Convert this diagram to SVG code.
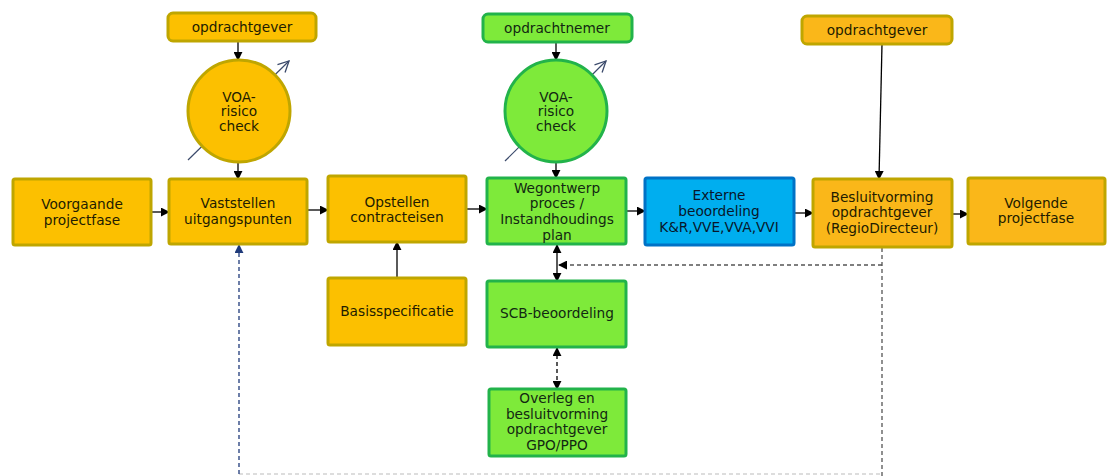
<svg xmlns="http://www.w3.org/2000/svg" width="1110" height="476" viewBox="0 0 1110 476">
<defs>
<marker id="ah" viewBox="0 0 10 10" refX="9" refY="5" markerWidth="9" markerHeight="9" markerUnits="userSpaceOnUse" orient="auto"><path d="M0,0 L10,5 L0,10 z" fill="#000"/></marker>
<marker id="ahs" viewBox="0 0 10 10" refX="1" refY="5" markerWidth="9" markerHeight="9" markerUnits="userSpaceOnUse" orient="auto"><path d="M10,0 L0,5 L10,10 z" fill="#000"/></marker>
<marker id="ahn" viewBox="0 0 10 10" refX="9" refY="5" markerWidth="9" markerHeight="9" markerUnits="userSpaceOnUse" orient="auto"><path d="M0,0 L10,5 L0,10 z" fill="#1f3a7a"/></marker>
<marker id="open" viewBox="0 0 12 12" refX="11" refY="6" markerWidth="13" markerHeight="13" markerUnits="userSpaceOnUse" orient="auto"><path d="M1,1 L11,6 L1,11" fill="none" stroke="#3b4a6b" stroke-width="1.2"/></marker>
</defs>
<style>
text{font-family:"DejaVu Sans","Liberation Sans",sans-serif;font-size:13.7px;fill:#221c00;text-anchor:middle}
.g text{fill:#122812}
.b text{fill:#08162a}
.or{fill:#fcc000;stroke:#bfa600;stroke-width:3}
.or2{fill:#fab719;stroke:#bfa600;stroke-width:3}
.gr{fill:#7eea3a;stroke:#22b34a;stroke-width:3}
.bl{fill:#00aeef;stroke:#0072c6;stroke-width:3}
.c{stroke:#000;stroke-width:1.3;fill:none}
.d{stroke:#555;stroke-width:1.3;fill:none;stroke-dasharray:4,3}
</style>

<g id="connectors">
<line x1="188" y1="160" x2="289" y2="61" stroke="#3b4a6b" stroke-width="1.2" marker-end="url(#open)"/>
<line x1="505" y1="161" x2="606" y2="61" stroke="#3b4a6b" stroke-width="1.2" marker-end="url(#open)"/>
<line class="c" x1="238" y1="41" x2="238" y2="60" marker-end="url(#ah)"/>
<line class="c" x1="238" y1="162" x2="238" y2="179" marker-end="url(#ah)"/>
<line class="c" x1="151" y1="212" x2="169" y2="212" marker-end="url(#ah)"/>
<line class="c" x1="307" y1="210" x2="328" y2="210" marker-end="url(#ah)"/>
<line class="c" x1="466" y1="209" x2="487" y2="209" marker-end="url(#ah)"/>
<line class="c" x1="556" y1="42" x2="556" y2="60" marker-end="url(#ah)"/>
<line class="c" x1="556" y1="162" x2="556" y2="178" marker-end="url(#ah)"/>
<line class="c" x1="626" y1="211" x2="645" y2="211" marker-end="url(#ah)"/>
<line class="c" x1="794" y1="213" x2="813" y2="213" marker-end="url(#ah)"/>
<line class="c" x1="952" y1="214" x2="968" y2="214" marker-end="url(#ah)"/>
<line class="c" x1="882" y1="44" x2="879" y2="179" marker-end="url(#ah)"/>
<line class="c" x1="397" y1="278" x2="397" y2="242" marker-end="url(#ah)"/>
<line class="c" x1="557" y1="245" x2="557" y2="281" marker-start="url(#ahs)" marker-end="url(#ah)"/>
<line class="c" x1="557" y1="348" x2="557" y2="389" stroke-dasharray="4,3" marker-start="url(#ahs)" marker-end="url(#ah)"/>
<line class="d" x1="882" y1="265" x2="559" y2="265" marker-end="url(#ah)"/>
<line class="d" x1="882" y1="248" x2="882" y2="476"/>
<line x1="239" y1="474" x2="882" y2="474" stroke="#bbb" stroke-width="1.2" stroke-dasharray="4,3"/>
<line x1="239" y1="474" x2="239" y2="245" stroke="#1f3a7a" stroke-width="1.3" stroke-dasharray="4,3" marker-end="url(#ahn)"/>
</g>

<g id="opdrachtgever1"><rect class="or" x="168" y="13" width="148" height="28" rx="5"/><text x="242" y="32">opdrachtgever</text></g>
<g id="voa1"><circle class="or" cx="239" cy="111" r="51"/><text x="239" y="102">VOA-</text><text x="239" y="116">risico</text><text x="239" y="131">check</text></g>
<g id="voorgaande"><rect class="or" x="13" y="179" width="138" height="66" rx="2"/><text x="82" y="209">Voorgaande</text><text x="82" y="225">projectfase</text></g>
<g id="vaststellen"><rect class="or" x="169" y="179" width="138" height="65" rx="2"/><text x="238" y="208">Vaststellen</text><text x="238" y="224">uitgangspunten</text></g>
<g id="opstellen"><rect class="or" x="328" y="176" width="138" height="66" rx="2"/><text x="397" y="207">Opstellen</text><text x="397" y="222">contracteisen</text></g>
<g id="basis"><rect class="or" x="328" y="278" width="138" height="67" rx="2"/><text x="397" y="316">Basisspecificatie</text></g>

<g id="opdrachtnemer" class="g"><rect class="gr" x="483" y="14" width="149" height="28" rx="5"/><text x="557" y="33">opdrachtnemer</text></g>
<g id="voa2" class="g"><circle class="gr" cx="556" cy="111" r="51"/><text x="556" y="102">VOA-</text><text x="556" y="116">risico</text><text x="556" y="131">check</text></g>
<g id="wegontwerp" class="g"><rect class="gr" x="487" y="178" width="139" height="66" rx="2"/><text x="557" y="193">Wegontwerp</text><text x="557" y="208">proces /</text><text x="557" y="224">Instandhoudings</text><text x="557" y="240">plan</text></g>
<g id="scb" class="g"><rect class="gr" x="487" y="281" width="139" height="66" rx="2"/><text x="557" y="318">SCB-beoordeling</text></g>
<g id="overleg" class="g"><rect class="gr" x="489" y="389" width="137" height="67" rx="2"/><text x="557" y="403">Overleg en</text><text x="557" y="419">besluitvorming</text><text x="557" y="434">opdrachtgever</text><text x="557" y="450">GPO/PPO</text></g>

<g id="externe" class="b"><rect class="bl" x="645" y="178" width="149" height="67" rx="2"/><text x="719" y="200">Externe</text><text x="719" y="216">beoordeling</text><text x="719" y="232">K&amp;R,VVE,VVA,VVI</text></g>
<g id="opdrachtgever2"><rect class="or2" x="802" y="16" width="150" height="28" rx="5"/><text x="877" y="35">opdrachtgever</text></g>
<g id="besluitvorming"><rect class="or2" x="813" y="179" width="139" height="68" rx="2"/><text x="882" y="202">Besluitvorming</text><text x="882" y="217">opdrachtgever</text><text x="882" y="233">(RegioDirecteur)</text></g>
<g id="volgende"><rect class="or2" x="968" y="178" width="137" height="66" rx="2"/><text x="1036" y="208">Volgende</text><text x="1036" y="223">projectfase</text></g>
</svg>
